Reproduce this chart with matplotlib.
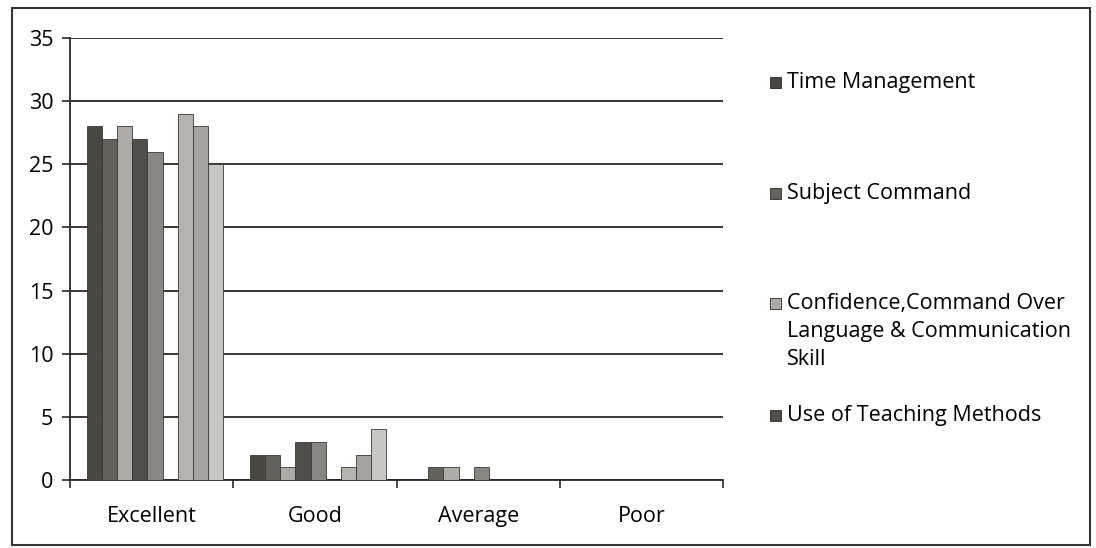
import numpy as np
import matplotlib
matplotlib.use('Agg')
import matplotlib.pyplot as plt
from matplotlib.patches import Rectangle

plt.rcParams['font.family'] = ['Open Sans', 'DejaVu Sans']

# categories on the x axis
categories = ['Excellent', 'Good', 'Average', 'Poor']

# one list per series (9 columns in the sheet, legend only shows the first 4)
time_management = [28, 2, 0, 0]
subject_command = [27, 2, 1, 0]
confidence = [28, 1, 1, 0]
teaching_methods = [27, 3, 0, 0]
series5 = [26, 3, 1, 0]
series6 = [0, 0, 0, 0]
series7 = [29, 1, 0, 0]
series8 = [28, 2, 0, 0]
series9 = [25, 4, 0, 0]

all_series = [time_management, subject_command, confidence, teaching_methods,
              series5, series6, series7, series8, series9]
colors = ['#4a4641', '#64605a', '#aeaba6', '#514d48', '#8a8782',
          '#999999', '#b6b3af', '#a6a39f', '#c8c6c3']

legend_labels = ['Time Management', 'Subject Command',
                 'Confidence,Command Over\nLanguage & Communication\nSkill',
                 'Use of Teaching Methods']

fig = plt.figure(figsize=(10.96, 5.48), dpi=100)
ax = fig.add_axes([0.0639, 0.1241, 0.5958, 0.8066])

x = np.arange(len(categories))
w = 0.093
n = len(all_series)
for i, (vals, c) in enumerate(zip(all_series, colors)):
    ax.bar(x + 0.02 + (i - (n - 1) / 2) * w, vals, width=w, color=c,
           edgecolor='#3a3733', linewidth=0.6, zorder=3)

ax.set_xlim(-0.5, 3.5)
ax.set_ylim(0, 35)
ax.set_yticks(range(0, 36, 5))
ax.yaxis.grid(True, color='#2b2724', linewidth=1.3, zorder=0)
ax.set_axisbelow(True)

ax.set_xticks(x)
ax.set_xticklabels(categories, fontsize=15.5)
ax.set_xticks(np.arange(-0.5, 4, 1), minor=True)
ax.tick_params(axis='x', which='major', length=0, pad=19)
ax.tick_params(axis='x', which='minor', length=5.5, width=1.2, color='#2b2724', direction='out')
ax.tick_params(axis='y', length=6, width=1.2, color='#2b2724', labelsize=15.5, pad=6)

for s in ['top', 'right']:
    ax.spines[s].set_visible(False)
for s in ['left', 'bottom']:
    ax.spines[s].set_color('#2b2724')
    ax.spines[s].set_linewidth(1.3)

# legend drawn by hand, first line of each entry next to its square
leg_y = [82, 193, 303, 415]
for lab, c, yy in zip(legend_labels, colors[:4], leg_y):
    fy = 1 - yy / 548
    fig.patches.append(Rectangle((770 / 1096, fy - 6 / 548), 11 / 1096, 11 / 548,
                                 transform=fig.transFigure, facecolor=c,
                                 edgecolor='#2b2724', linewidth=0.6))
    fig.text(787 / 1096, fy + 10 / 548, lab, fontsize=15.5, va='top', ha='left',
             linespacing=1.45)

# outer chart frame
fig.patches.append(Rectangle((12 / 1096, 3 / 548), 1078 / 1096, 537 / 548,
                             transform=fig.transFigure, fill=False,
                             edgecolor='#3a3530', linewidth=1.5))

fig.savefig('out.png', dpi=100)
